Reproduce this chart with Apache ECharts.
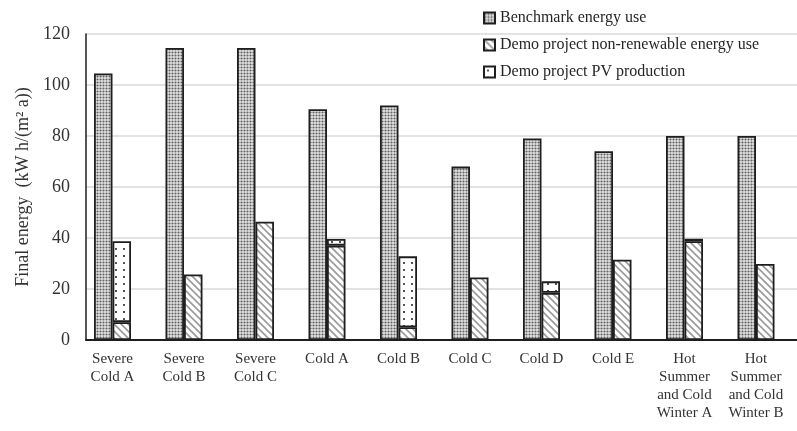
<!DOCTYPE html>
<html>
<head>
<meta charset="utf-8">
<script src="https://cdn.jsdelivr.net/npm/echarts@6/dist/echarts.min.js"></script>
<style>
  html, body { margin: 0; padding: 0; background: #fff; }
  #main { width: 797px; height: 431px; }
</style>
</head>
<body>
<div id="main"></div>
<script>
// climate zones
var categories = ['Severe\nCold A', 'Severe\nCold B', 'Severe\nCold C', 'Cold A', 'Cold B',
  'Cold C', 'Cold D', 'Cold E', 'Hot\nSummer\nand Cold\nWinter A', 'Hot\nSummer\nand Cold\nWinter B'];
var benchmark = [104.5, 114.5, 114.5, 90.5, 92, 68, 79, 74, 80, 80];
var nonRenewable = [7, 25.7, 46.4, 37, 5, 24.5, 18.5, 31.5, 38.7, 29.8];
var pvProduction = [31.7, '-', '-', 2.6, 27.8, '-', 4.5, '-', 1, '-'];
var yTicks = [0, 20, 40, 60, 80, 100, 120];

var serif = '"Liberation Serif", "DejaVu Serif", serif';

// 填充图案
function makePattern(w, h, draw) {
  var c = document.createElement('canvas');
  c.width = w;
  c.height = h;
  var ctx = c.getContext('2d');
  draw(ctx);
  return { image: c, repeat: 'repeat' };
}

var dotsDense = makePattern(6, 6, function (ctx) {
  ctx.fillStyle = '#e4e4e4';
  ctx.fillRect(0, 0, 6, 6);
  ctx.fillStyle = '#5e5e5e';
  [[1.5, 1.5], [4.5, 1.5], [1.5, 4.5], [4.5, 4.5]].forEach(function (p) {
    ctx.beginPath();
    ctx.arc(p[0], p[1], 1.05, 0, Math.PI * 2);
    ctx.fill();
  });
});

var hatch = makePattern(7, 7, function (ctx) {
  ctx.fillStyle = '#fff';
  ctx.fillRect(0, 0, 7, 7);
  ctx.strokeStyle = '#9a9a9a';
  ctx.lineWidth = 1.6;
  ctx.beginPath();
  ctx.moveTo(-1, -1); ctx.lineTo(8, 8);
  ctx.moveTo(-1, 6); ctx.lineTo(1, 8);
  ctx.moveTo(6, -1); ctx.lineTo(8, 1);
  ctx.stroke();
});

var dotsSparse = makePattern(8, 7, function (ctx) {
  ctx.fillStyle = '#fff';
  ctx.fillRect(0, 0, 8, 7);
  ctx.fillStyle = '#555';
  ctx.fillRect(3, 3, 2, 2);
});

var barW = 18.5;
var edge = { borderColor: '#1e1e1e', borderWidth: 1.8 };

var chart = echarts.init(document.getElementById('main'), null, { renderer: 'canvas' });

chart.setOption({
  animation: false,
  backgroundColor: '#fff',
  textStyle: { fontFamily: serif },
  grid: { left: 86, width: 715, top: 34, bottom: 91, containLabel: false, outerBoundsMode: 'none' },
  legend: {
    data: ['Benchmark energy use', 'Demo project non-renewable energy use', 'Demo project PV production'],
    orient: 'vertical',
    left: 483,
    top: 10,
    padding: 0,
    itemWidth: 11,
    itemHeight: 11,
    itemGap: 11,
    icon: 'rect',
    textStyle: { fontFamily: serif, fontSize: 16, color: '#262626' }
  },
  xAxis: {
    type: 'category',
    data: categories,
    axisLine: { lineStyle: { color: '#1e1e1e', width: 2 } },
    axisTick: { show: false },
    axisLabel: {
      fontFamily: serif,
      fontSize: 15,
      lineHeight: 18,
      color: '#333',
      margin: 10,
      interval: 0,
      padding: [0, 18.5, 0, 0]
    }
  },
  yAxis: {
    type: 'value',
    min: yTicks[0],
    max: yTicks[yTicks.length - 1],
    interval: 20,
    name: 'Final energy  (kW h/(m² a))',
    nameLocation: 'middle',
    nameGap: 53,
    nameTextStyle: { fontFamily: serif, fontSize: 18, color: '#333' },
    axisLine: { show: true, lineStyle: { color: '#1e1e1e', width: 1.5 } },
    axisTick: { show: false },
    axisLabel: { fontFamily: serif, fontSize: 18, color: '#333', margin: 16 },
    splitLine: { lineStyle: { color: '#d9d9d9', width: 1.5 } }
  },
  series: [
    {
      name: 'Benchmark energy use',
      type: 'bar',
      stack: 'bench',
      barWidth: barW,
      barGap: 0,
      itemStyle: Object.assign({ color: dotsDense }, edge),
      data: benchmark
    },
    {
      name: 'Demo project non-renewable energy use',
      type: 'bar',
      stack: 'demo',
      barWidth: barW,
      itemStyle: Object.assign({ color: hatch }, edge),
      data: nonRenewable
    },
    {
      name: 'Demo project PV production',
      type: 'bar',
      stack: 'demo',
      barWidth: barW,
      itemStyle: Object.assign({ color: dotsSparse }, edge),
      data: pvProduction
    },
    {
      // 空位，保持柱子偏左
      name: 'spacer',
      type: 'bar',
      stack: 'spacer',
      barWidth: barW,
      silent: true,
      data: []
    }
  ]
});
</script>
</body>
</html>
